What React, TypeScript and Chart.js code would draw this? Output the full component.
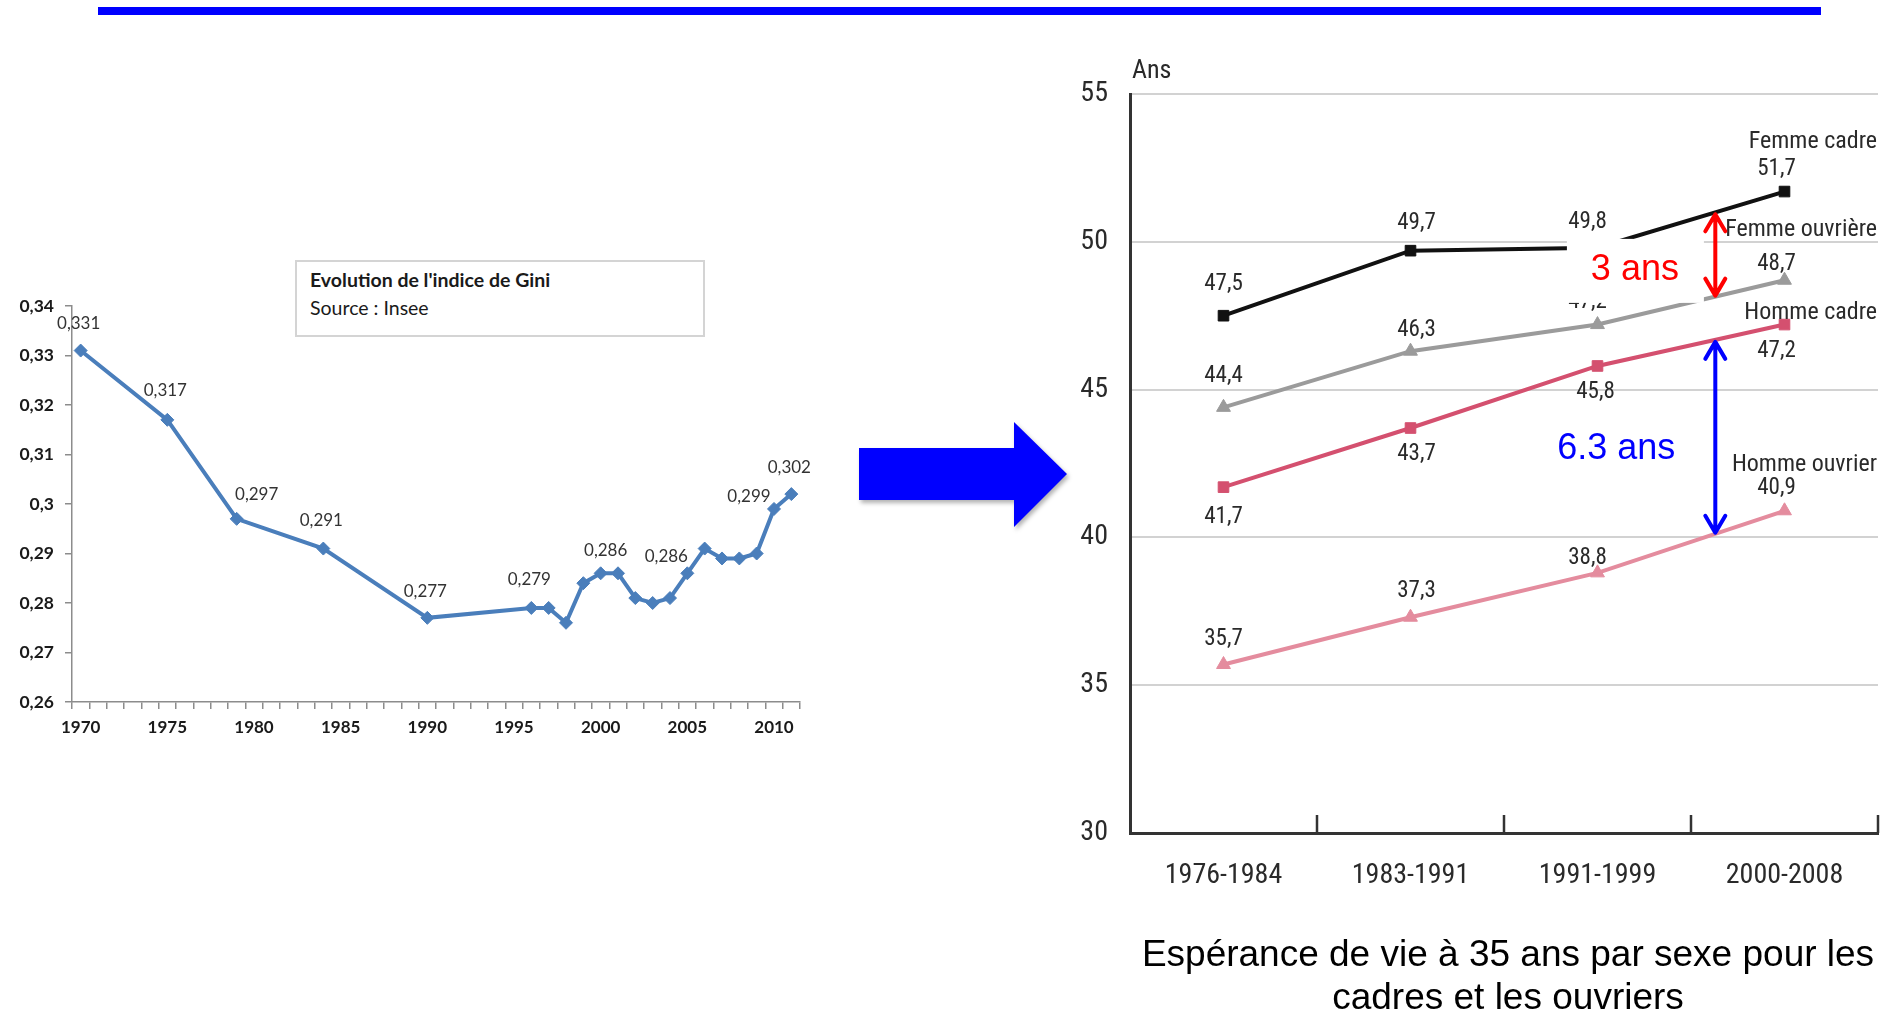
import React, { useEffect, useRef } from "react";
import { Chart, registerables } from "chart.js";

Chart.register(...registerables);

// ---------- Left chart data (Gini index, Insee) ----------
const GINI_YEARS = [
  "1970", "1971", "1972", "1973", "1974", "1975", "1976", "1977", "1978", "1979",
  "1980", "1981", "1982", "1983", "1984", "1985", "1986", "1987", "1988", "1989",
  "1990", "1991", "1992", "1993", "1994", "1995", "1996", "1997", "1998", "1999",
  "2000", "2001", "2002", "2003", "2004", "2005", "2006", "2007", "2008", "2009",
  "2010", "2011",
];
const GINI_VALUES: (number | null)[] = [
  0.331, null, null, null, null, 0.317, null, null, null, 0.297,
  null, null, null, null, 0.291, null, null, null, null, null,
  0.277, null, null, null, null, null, 0.279, 0.279, 0.276, 0.284,
  0.286, 0.286, 0.281, 0.28, 0.281, 0.286, 0.291, 0.289, 0.289, 0.29,
  0.299, 0.302,
];
const GINI_LABEL_YEARS = ["1970", "1975", "1979", "1984", "1990", "1996", "2000", "2005", "2010", "2011"];
const GINI_Y_MIN = 0.26;
const GINI_Y_MAX = 0.34;
const GINI_Y_STEP = 0.01;
const GINI_TITLE = "Evolution de l'indice de Gini";
const GINI_SOURCE = "Source : Insee";

// label placement (style) for the Gini data labels, pixels relative to the point
const GINI_LABEL_DX = [-2, -2, 20, -2, -2, -2, 5, -21, -25, -2];
const GINI_LABEL_DY = [-27, -29, -24, -28, -26, -28, -23, -17, -12, -27];

// ---------- Right chart data (life expectancy at 35) ----------
const PERIODS = ["1976-1984", "1983-1991", "1991-1999", "2000-2008"];
const FEMME_CADRE = [47.5, 49.7, 49.8, 51.7];
const FEMME_OUVRIERE = [44.4, 46.3, 47.2, 48.7];
const HOMME_CADRE = [41.7, 43.7, 45.8, 47.2];
const HOMME_OUVRIER = [35.7, 37.3, 38.8, 40.9];
const SERIES_NAMES = ["Femme cadre", "Femme ouvrière", "Homme cadre", "Homme ouvrier"];
const LIFE_Y_MIN = 30;
const LIFE_Y_MAX = 55;
const LIFE_Y_STEP = 5;
const LIFE_Y_TITLE = "Ans";
const GAP_FEMMES = "3 ans";
const GAP_HOMMES = "6.3 ans";
const CAPTION_1 = "Espérance de vie à 35 ans par sexe pour les";
const CAPTION_2 = "cadres et les ouvriers";

// annotation anchors (category units / value units)
const ARROW_AT = 2.63;
const GAP_FEMMES_POS = { x: 2.2, y: 49.05 };
const GAP_HOMMES_POS = { x: 2.1, y: 43.0 };

// styles
const LATO = "Lato, 'Open Sans', sans-serif";
const NARROW = "'Liberation Sans Narrow', 'Arial Narrow', 'Roboto Condensed', 'Liberation Sans', sans-serif";
const ARIAL = "'Liberation Sans', Arial, sans-serif";
const GINI_BLUE = "#4a7ebb";
const SERIES_COLORS = ["#111111", "#9b9b9b", "#d4506f", "#e48c9e"];
const SERIES_POINTS = ["rect", "triangle", "rect", "triangle"];
// value-label offsets per series and point (pixels)
const LABEL_DX = [
  [0, 6, -10, -8],
  [0, 6, -10, -8],
  [0, 6, -2, -8],
  [0, 6, -10, -8],
];
const LABEL_DY = [
  [-31, -27, -25, -22],
  [-31, -21, -22, -16],
  [30, 26, 26, 27],
  [-25, -26, -15, -23],
];
const NAME_DY = [-50, -50, -12, -46];

const fmtComma = (v: number, d: number) => v.toFixed(d).replace(".", ",");

const giniLabelPlugin = {
  id: "giniLabels",
  afterDatasetsDraw(chart: any) {
    const ctx = chart.ctx;
    const meta = chart.getDatasetMeta(0);
    ctx.save();
    ctx.font = `17px ${LATO}`;
    ctx.fillStyle = "#333";
    ctx.textAlign = "center";
    ctx.textBaseline = "middle";
    GINI_LABEL_YEARS.forEach((yr, k) => {
      const i = GINI_YEARS.indexOf(yr);
      const v = GINI_VALUES[i];
      const el = meta.data[i];
      if (v == null || !el) return;
      ctx.fillText(fmtComma(v, 3), el.x + GINI_LABEL_DX[k], el.y + GINI_LABEL_DY[k]);
    });
    ctx.restore();
  },
};

const LIFE_SERIES = [FEMME_CADRE, FEMME_OUVRIERE, HOMME_CADRE, HOMME_OUVRIER];

function interp(series: number[], t: number) {
  const i = Math.min(Math.floor(t), series.length - 2);
  return series[i] + (t - i) * (series[i + 1] - series[i]);
}

function drawDoubleArrow(ctx: any, x: number, y1: number, y2: number, color: string) {
  ctx.save();
  ctx.strokeStyle = color;
  ctx.lineWidth = 4;
  ctx.lineCap = "round";
  ctx.lineJoin = "round";
  ctx.beginPath();
  ctx.moveTo(x, y1);
  ctx.lineTo(x, y2);
  ctx.moveTo(x - 10, y1 + 17);
  ctx.lineTo(x, y1);
  ctx.lineTo(x + 10, y1 + 17);
  ctx.moveTo(x - 10, y2 - 17);
  ctx.lineTo(x, y2);
  ctx.lineTo(x + 10, y2 - 17);
  ctx.stroke();
  ctx.restore();
}

const lifeDecorPlugin = {
  id: "lifeDecor",
  afterDatasetsDraw(chart: any) {
    const ctx = chart.ctx;
    const xs = chart.scales.x;
    const ys = chart.scales.y;
    const ca = chart.chartArea;
    ctx.save();

    // inward tick marks at category boundaries
    ctx.strokeStyle = "#333";
    ctx.lineWidth = 2.5;
    for (let i = 0; i < PERIODS.length; i++) {
      const px = xs.getPixelForValue(i + 0.5);
      ctx.beginPath();
      ctx.moveTo(px, ca.bottom);
      ctx.lineTo(px, ca.bottom - 18);
      ctx.stroke();
    }

    // value labels
    ctx.font = `23px ${NARROW}`;
    ctx.fillStyle = "#2a2a2a";
    ctx.textAlign = "center";
    ctx.textBaseline = "middle";
    LIFE_SERIES.forEach((s, si) => {
      s.forEach((v, i) => {
        const px = xs.getPixelForValue(i);
        const py = ys.getPixelForValue(v);
        ctx.fillText(fmtComma(v, 1), px + LABEL_DX[si][i], py + LABEL_DY[si][i]);
      });
    });

    // series names at the right end
    ctx.textAlign = "right";
    ctx.font = `24px ${NARROW}`;
    LIFE_SERIES.forEach((s, si) => {
      const py = ys.getPixelForValue(s[s.length - 1]);
      ctx.fillText(SERIES_NAMES[si], ca.right - 1, py + NAME_DY[si]);
    });

    // y axis title
    ctx.textAlign = "left";
    ctx.textBaseline = "alphabetic";
    ctx.font = `26px ${NARROW}`;
    ctx.fillText(LIFE_Y_TITLE, ca.left + 2, ca.top - 16);

    // white box + "3 ans"
    const bx = xs.getPixelForValue(GAP_FEMMES_POS.x);
    const by = ys.getPixelForValue(GAP_FEMMES_POS.y);
    ctx.fillStyle = "#ffffff";
    ctx.fillRect(bx - 68, by - 31, 137, 64);
    ctx.font = `36px ${ARIAL}`;
    ctx.textAlign = "center";
    ctx.textBaseline = "middle";
    ctx.fillStyle = "#ff0000";
    ctx.fillText(GAP_FEMMES, bx, by);

    const hx = xs.getPixelForValue(GAP_HOMMES_POS.x);
    const hy = ys.getPixelForValue(GAP_HOMMES_POS.y);
    ctx.fillStyle = "#0000ff";
    ctx.fillText(GAP_HOMMES, hx, hy);

    // gap arrows
    const ax = xs.getPixelForValue(ARROW_AT);
    drawDoubleArrow(ctx, ax, ys.getPixelForValue(interp(FEMME_CADRE, ARROW_AT)) + 2, ys.getPixelForValue(interp(FEMME_OUVRIERE, ARROW_AT)) - 1, "#ff0000");
    drawDoubleArrow(ctx, ax, ys.getPixelForValue(interp(HOMME_CADRE, ARROW_AT)) + 2, ys.getPixelForValue(interp(HOMME_OUVRIER, ARROW_AT)) - 1, "#0000ff");

    ctx.restore();
  },
};

function GiniChart() {
  const ref = useRef<HTMLCanvasElement>(null);
  useEffect(() => {
    const canvas = ref.current;
    if (!canvas) return;
    const chart = new Chart(canvas, {
      type: "line",
      data: {
        labels: GINI_YEARS,
        datasets: [
          {
            data: GINI_VALUES,
            borderColor: GINI_BLUE,
            backgroundColor: GINI_BLUE,
            pointBackgroundColor: GINI_BLUE,
            pointBorderColor: GINI_BLUE,
            borderWidth: 4,
            pointStyle: "rectRot",
            pointRadius: 6.5,
            pointBorderWidth: 1,
            spanGaps: true,
            tension: 0,
          },
        ],
      },
      options: {
        responsive: false,
        animation: false,
        layout: { padding: { top: 56, right: 40, left: 0, bottom: 0 } },
        plugins: { legend: { display: false }, tooltip: { enabled: false } },
        scales: {
          x: {
            type: "category",
            offset: true,
            grid: { display: true, offset: true, drawOnChartArea: false, drawTicks: true, tickLength: 7, color: "#8c8c8c", lineWidth: 1.5 },
            border: { display: true, color: "#8c8c8c", width: 1.5 },
            ticks: {
              autoSkip: false,
              maxRotation: 0,
              minRotation: 0,
              padding: 8,
              color: "#1a1a1a",
              font: { family: LATO, size: 17, weight: "bold" },
              callback: (_v: any, i: number) => (Number(GINI_YEARS[i]) % 5 === 0 ? GINI_YEARS[i] : ""),
            },
            afterFit: (s: any) => {
              s.height = 68;
            },
          },
          y: {
            min: GINI_Y_MIN,
            max: GINI_Y_MAX,
            grid: { display: true, drawOnChartArea: false, drawTicks: true, tickLength: 7, color: "#8c8c8c", lineWidth: 1.5 },
            border: { display: true, color: "#8c8c8c", width: 1.5 },
            ticks: {
              stepSize: GINI_Y_STEP,
              padding: 11,
              color: "#1a1a1a",
              font: { family: LATO, size: 17.5, weight: "bold" },
              callback: (v: any) => String(Math.round(Number(v) * 100) / 100).replace(".", ","),
            },
            afterFit: (s: any) => {
              s.width = 72;
            },
          },
        },
      } as any,
      plugins: [giniLabelPlugin],
    });
    return () => chart.destroy();
  }, []);
  return (
    <canvas
      ref={ref}
      width={840}
      height={520}
      style={{ position: "absolute", left: 0, top: 250, width: 840, height: 520 }}
    />
  );
}

function LifeChart() {
  const ref = useRef<HTMLCanvasElement>(null);
  useEffect(() => {
    const canvas = ref.current;
    if (!canvas) return;
    const order = [3, 2, 1, 0];
    const chart = new Chart(canvas, {
      type: "line",
      data: {
        labels: PERIODS,
        datasets: order.map((si) => ({
          label: SERIES_NAMES[si],
          data: LIFE_SERIES[si],
          borderColor: SERIES_COLORS[si],
          backgroundColor: SERIES_COLORS[si],
          pointBackgroundColor: SERIES_COLORS[si],
          pointBorderColor: SERIES_COLORS[si],
          borderWidth: 4,
          pointStyle: SERIES_POINTS[si],
          pointRadius: SERIES_POINTS[si] === "rect" ? 7.5 : 8,
          pointBorderWidth: 1,
          tension: 0,
        })),
      },
      options: {
        responsive: false,
        animation: false,
        layout: { padding: { top: 54, right: 17, left: 0, bottom: 0 } },
        plugins: { legend: { display: false }, tooltip: { enabled: false } },
        scales: {
          x: {
            type: "category",
            offset: true,
            grid: { display: false },
            border: { display: true, color: "#333", width: 3 },
            ticks: { padding: 18, color: "#2a2a2a", font: { family: NARROW, size: 28 }, maxRotation: 0 },
            afterFit: (s: any) => {
              s.height = 67;
            },
          },
          y: {
            min: LIFE_Y_MIN,
            max: LIFE_Y_MAX,
            grid: { display: true, color: "#d2d2d2", lineWidth: 2, drawTicks: false },
            border: { display: true, color: "#333", width: 3 },
            ticks: { stepSize: LIFE_Y_STEP, padding: 22, color: "#2a2a2a", font: { family: NARROW, size: 28 } },
            afterFit: (s: any) => {
              s.width = 90;
            },
          },
        },
      } as any,
      plugins: [lifeDecorPlugin],
    });
    return () => chart.destroy();
  }, []);
  return (
    <canvas
      ref={ref}
      width={855}
      height={860}
      style={{ position: "absolute", left: 1040, top: 40, width: 855, height: 860 }}
    />
  );
}

export default function App() {
  return (
    <div style={{ position: "absolute", left: 0, top: 0, width: 1895, height: 1012, background: "#fff", overflow: "hidden" }}>
      <div style={{ position: "absolute", left: 98, top: 7, width: 1723, height: 8, background: "#0000ff" }} />
      <GiniChart />
      <div
        style={{
          position: "absolute",
          left: 295,
          top: 260,
          width: 410,
          height: 77,
          boxSizing: "border-box",
          border: "2px solid #d4d4d4",
          background: "#fff",
          padding: "4px 0 0 13px",
          fontFamily: LATO,
          fontSize: 19.5,
          lineHeight: "28px",
          color: "#1a1a1a",
        }}
      >
        <div style={{ fontWeight: "bold" }}>{GINI_TITLE}</div>
        <div>{GINI_SOURCE}</div>
      </div>
      <svg
        width={1895}
        height={1012}
        style={{ position: "absolute", left: 0, top: 0, pointerEvents: "none", filter: "drop-shadow(2px 3px 2px rgba(0,0,0,0.3))" }}
      >
        <polygon points="859,448 1014,448 1014,422 1067,474 1014,527 1014,500 859,500" fill="#0000ff" />
      </svg>
      <LifeChart />
      <div
        style={{
          position: "absolute",
          left: 1058,
          top: 932,
          width: 900,
          textAlign: "center",
          fontFamily: ARIAL,
          fontSize: 37,
          lineHeight: "43px",
          color: "#000",
        }}
      >
        <div>{CAPTION_1}</div>
        <div>{CAPTION_2}</div>
      </div>
    </div>
  );
}
